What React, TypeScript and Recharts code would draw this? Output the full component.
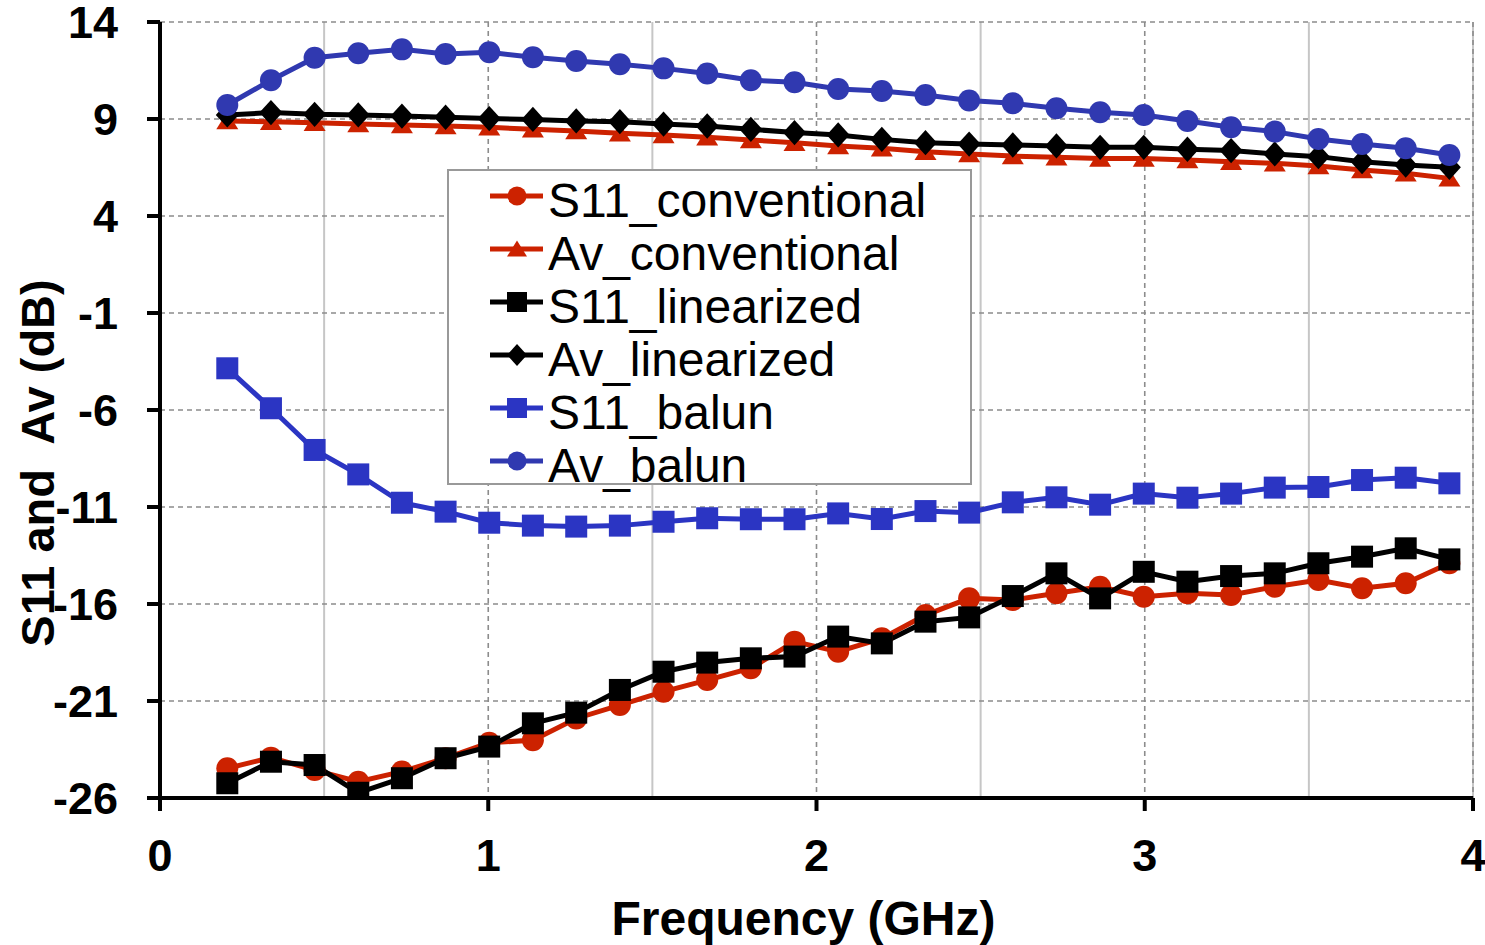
import React from "react";
import { LineChart, Line, XAxis, YAxis, CartesianGrid, Legend } from "recharts";

const FONT = '"Liberation Sans", Arial, Helvetica, sans-serif';

// frequency points (GHz)
const frequencies = [
  0.205, 0.338, 0.471, 0.604, 0.737, 0.87, 1.003, 1.136, 1.268, 1.401, 1.534, 1.667, 1.8, 1.933, 2.066,
  2.199, 2.332, 2.465, 2.598, 2.731, 2.864, 2.997, 3.13, 3.263, 3.396, 3.529, 3.662, 3.795, 3.928,
];

const s11Conventional = [
  -24.47, -23.92, -24.56, -25.16, -24.64, -23.95, -23.15, -23.02, -21.9, -21.21, -20.52, -19.92, -19.31, -17.94,
  -18.46, -17.77, -16.57, -15.71, -15.79, -15.45, -15.11, -15.62, -15.45, -15.54, -15.11, -14.76, -15.19, -14.93, -13.9,
];
const avConventional = [
  8.9, 8.86, 8.81, 8.74, 8.69, 8.64, 8.57, 8.47, 8.38, 8.26, 8.18, 8.06, 7.92, 7.78, 7.61, 7.49, 7.31, 7.2, 7.09,
  7.03, 6.97, 6.97, 6.89, 6.8, 6.72, 6.58, 6.37, 6.2, 5.94,
];
const s11Linearized = [
  -25.24, -24.13, -24.3, -25.73, -24.98, -23.95, -23.35, -22.15, -21.6, -20.43, -19.49, -19.02, -18.8, -18.71,
  -17.68, -18.03, -16.91, -16.69, -15.59, -14.42, -15.71, -14.34, -14.85, -14.56, -14.42, -13.9, -13.56, -13.13, -13.7,
];
const avLinearized = [
  9.21, 9.33, 9.24, 9.21, 9.15, 9.09, 9.02, 8.98, 8.9, 8.86, 8.74, 8.64, 8.47, 8.3, 8.18, 7.95, 7.78, 7.71, 7.66,
  7.61, 7.54, 7.54, 7.44, 7.37, 7.2, 7.06, 6.8, 6.63, 6.51,
];
const s11Balun = [
  -3.85, -5.91, -8.06, -9.32, -10.78, -11.24, -11.81, -11.96, -12.01, -11.96, -11.76, -11.58, -11.63, -11.63,
  -11.33, -11.62, -11.21, -11.29, -10.76, -10.5, -10.88, -10.31, -10.52, -10.31, -10.0, -9.97, -9.61, -9.49, -9.78,
];
const avBalun = [
  9.72, 11.0, 12.16, 12.39, 12.59, 12.35, 12.44, 12.18, 11.99, 11.82, 11.61, 11.35, 11.0, 10.89, 10.55, 10.44,
  10.24, 9.95, 9.81, 9.55, 9.35, 9.21, 8.9, 8.57, 8.35, 7.97, 7.71, 7.49, 7.14,
];

const xTicks = [0, 1, 2, 3, 4];
const minorXTicks = [0.5, 1.5, 2.5, 3.5];
const yTicks = [-26, -21, -16, -11, -6, -1, 4, 9, 14];

const RED = "#CC2200";
const BLUE_SQ = "#2B35C3";
const BLUE_CI = "#3039B0";

type Shape = "circle" | "triangle" | "square" | "diamond";

const SERIES: { key: string; name: string; color: string; shape: Shape; values: number[] }[] = [
  { key: "s11Conventional", name: "S11_conventional", color: RED, shape: "circle", values: s11Conventional },
  { key: "avConventional", name: "Av_conventional", color: RED, shape: "triangle", values: avConventional },
  { key: "s11Linearized", name: "S11_linearized", color: "#000000", shape: "square", values: s11Linearized },
  { key: "avLinearized", name: "Av_linearized", color: "#000000", shape: "diamond", values: avLinearized },
  { key: "s11Balun", name: "S11_balun", color: BLUE_SQ, shape: "square", values: s11Balun },
  { key: "avBalun", name: "Av_balun", color: BLUE_CI, shape: "circle", values: avBalun },
];

const data = frequencies.map((f, i) => {
  const row: Record<string, number> = { freq: f };
  SERIES.forEach((s) => {
    row[s.key] = s.values[i];
  });
  return row;
});

function Marker({ shape, cx, cy, color, size }: { shape: Shape; cx: number; cy: number; color: string; size: number }) {
  const h = size / 2;
  if (shape === "circle") return <circle cx={cx} cy={cy} r={h} fill={color} />;
  if (shape === "square") return <rect x={cx - h} y={cy - h} width={size} height={size} fill={color} />;
  if (shape === "triangle")
    return <polygon points={`${cx},${cy - h * 0.85} ${cx + h},${cy + h * 0.75} ${cx - h},${cy + h * 0.75}`} fill={color} />;
  return <polygon points={`${cx},${cy - h * 1.1} ${cx + h},${cy} ${cx},${cy + h * 1.1} ${cx - h},${cy}`} fill={color} />;
}

function LegendBox() {
  return (
    <div
      style={{
        width: 525,
        height: 316,
        boxSizing: "border-box",
        border: "2px solid #999",
        background: "#fff",
        paddingTop: 3,
        fontFamily: FONT,
      }}
    >
      {SERIES.map((s) => (
        <div key={s.key} style={{ display: "flex", alignItems: "center", height: 53, paddingLeft: 41 }}>
          <svg width={58} height={30} style={{ marginTop: -10 }}>
            <line x1={0} y1={15} x2={53} y2={15} stroke={s.color} strokeWidth={5} />
            <Marker shape={s.shape} cx={27} cy={15} color={s.color} size={s.shape === "circle" ? 19 : 20} />
          </svg>
          <span style={{ fontSize: 48, lineHeight: "53px", color: "#000", whiteSpace: "pre" }}>{s.name}</span>
        </div>
      ))}
    </div>
  );
}

const tickStyle = { fill: "#000", fontSize: 45, fontWeight: "bold" as const, fontFamily: FONT };

export default function App() {
  return (
    <div style={{ position: "absolute", left: 0, top: 0, background: "#fff" }}>
      <LineChart
        width={1485}
        height={945}
        data={data}
        margin={{ top: 22, right: 12, bottom: 0, left: 0 }}
        style={{ fontFamily: FONT }}
      >
        <XAxis xAxisId="minor" dataKey="freq" type="number" domain={[0, 4]} ticks={minorXTicks} hide />
        <CartesianGrid xAxisId="minor" horizontal={false} stroke="#c6c6c6" strokeWidth={2} />
        <CartesianGrid stroke="#8c8c8c" strokeWidth={1.6} strokeDasharray="5 4" />
        <XAxis
          dataKey="freq"
          type="number"
          domain={[0, 4]}
          ticks={xTicks}
          interval={0}
          height={147}
          tickSize={13}
          tickMargin={28}
          axisLine={{ stroke: "#000", strokeWidth: 4 }}
          tickLine={{ stroke: "#000", strokeWidth: 4 }}
          tick={tickStyle}
          label={{
            content: (props: any) => {
              const vb = props.viewBox || { x: 160, y: 798, width: 1313, height: 147 };
              return (
                <text
                  x={vb.x + vb.width / 2 - 13}
                  y={vb.y + 137}
                  textAnchor="middle"
                  fontSize={48}
                  fontWeight="bold"
                  fontFamily={FONT}
                  fill="#000"
                >
                  Frequency (GHz)
                </text>
              );
            },
          }}
        />
        <YAxis
          type="number"
          domain={[-26, 14]}
          ticks={yTicks}
          interval={0}
          allowDataOverflow
          width={160}
          tickSize={13}
          tickMargin={29}
          axisLine={{ stroke: "#000", strokeWidth: 4 }}
          tickLine={{ stroke: "#000", strokeWidth: 4 }}
          tick={tickStyle}
          label={{
            content: (props: any) => {
              const vb = props.viewBox || { x: 0, y: 22, width: 160, height: 776 };
              const x = vb.x + 54;
              const y = vb.y + vb.height / 2 + 53;
              return (
                <text
                  x={x}
                  y={y}
                  transform={`rotate(-90, ${x}, ${y})`}
                  textAnchor="middle"
                  fontSize={47}
                  fontWeight="bold"
                  fontFamily={FONT}
                  fill="#000"
                  style={{ whiteSpace: "pre" }}
                >
                  {"S11 and  Av (dB)"}
                </text>
              );
            },
          }}
        />
        {SERIES.map((s) => (
          <Line
            key={s.key}
            dataKey={s.key}
            name={s.name}
            stroke={s.color}
            strokeWidth={5}
            isAnimationActive={false}
            activeDot={false}
            dot={(p: any) => (
              <Marker
                key={`${s.key}-${p.index}`}
                shape={s.shape}
                cx={p.cx}
                cy={p.cy}
                color={s.color}
                size={s.shape === "diamond" ? 23 : 22}
              />
            )}
          />
        ))}
        <Legend
          layout="horizontal"
          verticalAlign="middle"
          align="center"
          wrapperStyle={{ left: 447, top: 169, width: 525, height: 316 }}
          content={() => <LegendBox />}
        />
      </LineChart>
    </div>
  );
}
